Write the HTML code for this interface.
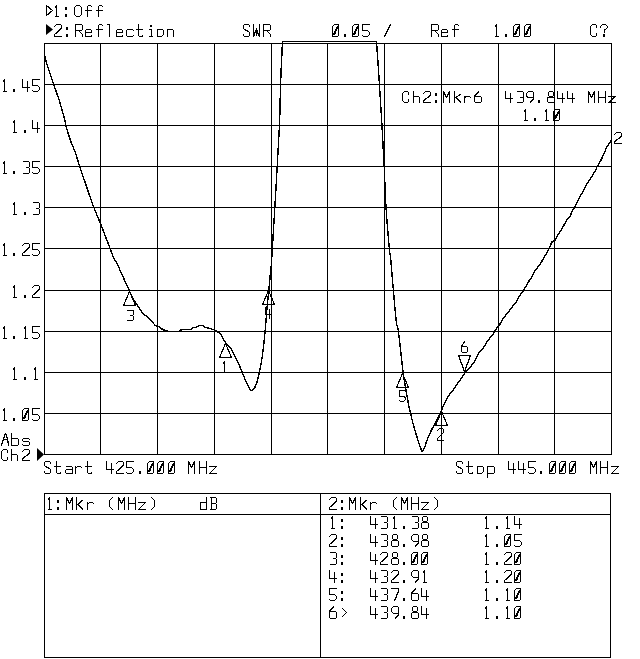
<!DOCTYPE html>
<html><head><meta charset="utf-8"><title>SWR</title>
<style>
html,body{margin:0;padding:0;background:#fff;}
body{width:640px;height:659px;overflow:hidden;font-family:"Liberation Mono",monospace;}
svg{display:block;}
</style></head><body>
<svg width="640" height="659" viewBox="0 0 640 659">
<rect x="0" y="0" width="640" height="659" fill="#fff"/>
<path d="M44.5,43 V455 M100.5,43 V455 M157.5,43 V455 M214.5,43 V455 M271.5,43 V455 M327.5,43 V455 M384.5,43 V455 M441.5,43 V455 M498.5,43 V455 M554.5,43 V455 M611.5,43 V455 M44,43.5 H612 M44,84.5 H612 M44,125.5 H612 M44,166.5 H612 M44,207.5 H612 M44,248.5 H612 M44,290.5 H612 M44,331.5 H612 M44,372.5 H612 M44,413.5 H612 M44,454.5 H612 M44.5,493.5 H610.5 V657.5 H44.5 Z M320.5,493 V658 M44,514.5 H611" fill="none" stroke="#000" stroke-width="1" shape-rendering="crispEdges"/>
<path d="M43.5,55.5 C43.67,55.5 44.17,54.88 44.5,55.5 C44.83,56.12 44.82,56.96 45.5,59.25 C46.18,61.54 47.25,65.08 48.6,69.25 C49.95,73.42 51.83,79.04 53.6,84.25 C55.38,89.46 57.37,94.46 59.25,100.5 C61.13,106.54 63.76,116.23 64.9,120.5 C66.04,124.77 65.17,122.77 66.1,126.1 C67.03,129.43 68.93,136.02 70.5,140.5 C72.07,144.98 73.93,148.52 75.5,153 C77.07,157.48 78.55,163.23 79.9,167.4 C81.25,171.57 82.35,174.36 83.6,178 C84.85,181.64 85.73,184.46 87.4,189.25 C89.07,194.04 91.42,201.03 93.6,206.75 C95.78,212.47 97.78,216.72 100.5,223.6 C103.22,230.47 107.61,242.06 109.9,248 C112.19,253.94 113.11,256.75 114.25,259.25 C115.39,261.75 115.39,260.29 116.75,263 C118.11,265.71 120.32,270.92 122.4,275.5 C124.48,280.08 127.28,286.33 129.25,290.5 C131.22,294.67 132.17,296.96 134.25,300.5 C136.33,304.04 139.88,309.25 141.75,311.75 C143.62,314.25 144.46,314.56 145.5,315.5 C146.54,316.44 146.33,315.73 148,317.4 C149.67,319.07 153.83,324.05 155.5,325.5 C157.17,326.95 156.85,325.48 158,326.1 C159.15,326.73 160.83,328.42 162.4,329.25 C163.97,330.08 164.7,330.73 167.4,331.1 C170.1,331.48 176.32,331.7 178.6,331.5 C180.88,331.3 179.22,330.23 181.1,329.9 C182.98,329.57 188.02,329.82 189.9,329.5 C191.78,329.18 191.47,328.35 192.4,328 C193.33,327.65 194.36,327.77 195.5,327.4 C196.64,327.02 198,326.02 199.25,325.75 C200.5,325.48 201.96,325.48 203,325.75 C204.04,326.02 204.25,326.92 205.5,327.4 C206.75,327.88 208.83,328.08 210.5,328.6 C212.17,329.12 213.83,329.56 215.5,330.5 C217.17,331.44 218.83,332.25 220.5,334.25 C222.17,336.25 223.83,340.21 225.5,342.5 C227.17,344.79 228.42,344.68 230.5,348 C232.58,351.32 236.02,358.23 238,362.4 C239.98,366.57 240.94,369.57 242.4,373 C243.86,376.43 245.3,380.08 246.75,383 C248.2,385.92 249.64,389.98 251.1,390.5 C252.56,391.02 254.14,389.02 255.5,386.1 C256.86,383.18 258.1,378.1 259.25,373 C260.4,367.9 261.57,361.12 262.4,355.5 C263.23,349.88 263.73,344.04 264.25,339.25 C264.77,334.46 265.09,331.38 265.5,326.75 C265.91,322.12 266.17,317.46 266.7,311.5 C267.23,305.54 268.02,298.05 268.7,291 C269.38,283.95 270.21,275.95 270.8,269.2 C271.39,262.45 270.85,273.62 272.25,250.5 C273.65,227.38 277.82,158.07 279.2,130.5 C280.57,102.93 279.95,99.93 280.5,85.1 C281.05,70.27 282.17,48.77 282.5,41.5 L376.5,41.5 C377,48.83 378.58,71.33 379.5,85.5 C380.42,99.67 381.22,112.93 382,126.5 C382.78,140.07 383.53,153.48 384.2,166.9 C384.87,180.32 385.12,193.07 386,207 C386.88,220.93 388.77,242.38 389.5,250.5 C390.23,258.62 389.75,249.03 390.4,255.7 C391.05,262.37 392.4,279.37 393.4,290.5 C394.4,301.63 395.58,315.83 396.4,322.5 C397.22,329.17 397.17,322.1 398.3,330.5 C399.43,338.9 401.62,361.23 403.2,372.9 C404.78,384.57 406.58,393.77 407.8,400.5 C409.02,407.23 409.43,408.7 410.5,413.25 C411.57,417.8 412.83,422.94 414.2,427.8 C415.57,432.66 417.42,438.45 418.7,442.4 C419.98,446.35 421.37,449.98 421.9,451.5 C422.35,450.9 423.77,449.73 424.6,447.9 C425.43,446.07 425.79,443.4 426.9,440.5 C428.01,437.6 429.8,433.52 431.25,430.5 C432.7,427.48 434.35,424.8 435.6,422.4 C436.85,420 437.7,418.29 438.75,416.1 C439.8,413.91 440.88,411.52 441.9,409.25 C442.92,406.98 443.57,405.08 444.9,402.5 C446.23,399.92 448.76,395.52 449.9,393.75 C451.04,391.98 450.72,393.26 451.75,391.9 C452.78,390.54 454.64,387.68 456.1,385.6 C457.56,383.52 459.03,381.48 460.5,379.4 C461.97,377.32 463.55,374.88 464.9,373.1 C466.25,371.33 467.25,370.31 468.6,368.75 C469.95,367.19 471.75,365.44 473,363.75 C474.25,362.06 475.06,360.49 476.1,358.6 C477.14,356.71 478,354.27 479.25,352.4 C480.5,350.53 482.14,349.38 483.6,347.4 C485.06,345.42 486.43,342.69 488,340.5 C489.57,338.31 491.65,336.17 493,334.25 C494.35,332.33 495.06,330.5 496.1,329 C497.14,327.5 498,327.12 499.25,325.25 C500.5,323.38 502.24,319.73 503.6,317.75 C504.96,315.77 505.93,315.27 507.4,313.4 C508.87,311.52 510.95,308.27 512.4,306.5 C513.85,304.73 515.17,304.15 516.1,302.75 C517.03,301.35 516.8,300.12 518,298.1 C519.2,296.08 521.42,293.52 523.3,290.6 C525.17,287.68 527.84,282.88 529.25,280.6 C530.66,278.32 530.81,278.57 531.75,276.9 C532.69,275.23 533.86,272.27 534.9,270.6 C535.94,268.93 536.97,268.25 538,266.9 C539.03,265.55 539.33,265.38 541.1,262.5 C542.87,259.62 546.77,253.05 548.6,249.6 C550.43,246.15 551.05,243.32 552.1,241.8 C553.15,240.28 554.02,241.48 554.9,240.5 C555.78,239.52 556.37,237.61 557.4,235.9 C558.43,234.19 559.54,232.86 561.1,230.25 C562.66,227.64 565.18,222.64 566.75,220.25 C568.32,217.86 569.67,217.36 570.5,215.9 C571.33,214.44 571.12,212.86 571.75,211.5 C572.38,210.14 573.21,209.62 574.25,207.75 C575.29,205.88 576.54,202.96 578,200.25 C579.46,197.54 581.33,194.53 583,191.5 C584.67,188.47 586.75,184.28 588,182.1 C589.25,179.92 589.25,180.33 590.5,178.4 C591.75,176.47 594.4,172.48 595.5,170.5 C596.6,168.52 596.27,168.07 597.1,166.5 C597.93,164.93 599.31,163.35 600.5,161.1 C601.69,158.85 603.21,155.28 604.25,153 C605.29,150.72 605.71,149.32 606.75,147.4 C607.79,145.48 609.71,142.98 610.5,141.5 C611.29,140.02 611.33,139 611.5,138.5" fill="none" stroke="#000" stroke-width="1.4" stroke-linejoin="round" shape-rendering="crispEdges"/>
<path d="M129.5,291.5 L123.5,305.5 L135.5,305.5 Z M225.5,343.5 L219.5,357.5 L231.5,357.5 Z M268.5,290.5 L262.5,304.5 L274.5,304.5 Z M402.5,373.5 L396.5,387.5 L408.5,387.5 Z M441.5,411.5 L435.5,425.5 L447.5,425.5 Z M464.5,371.5 L458.5,355.5 L470.5,355.5 Z M46.5,5.5 L52.5,10.5 L46.5,15.5 Z" fill="none" stroke="#000" stroke-width="1.25" stroke-linejoin="bevel" shape-rendering="crispEdges"/>
<path d="M46,24 L53,29.5 L46,35 Z M37,448 L44,454.5 L37,461 Z" fill="#000"/>
<path d="M55.5,7.5 L55.5,6.5 L56.5,5.5 L56.5,16.5 M55.5,16.5 L58.5,16.5 M76.5,5.5 L79.5,5.5 L81.5,7.5 L81.5,14.5 L79.5,16.5 L76.5,16.5 L74.5,14.5 L74.5,7.5 L76.5,5.5 M91.5,6.5 L90.5,5.5 L88.5,5.5 L87.5,6.5 L87.5,16.5 M85.5,10.5 L91.5,10.5 M102.5,6.5 L101.5,5.5 L99.5,5.5 L98.5,6.5 L98.5,16.5 M96.5,10.5 L102.5,10.5 M54.5,26.5 L56.5,24.5 L60.5,24.5 L61.5,25.5 L61.5,28.5 L54.5,34.5 L54.5,36.5 L61.5,36.5 M75.5,36.5 L75.5,24.5 L81.5,24.5 L82.5,25.5 L82.5,29.5 L81.5,30.5 L75.5,30.5 M79.5,31.5 L82.5,34.5 L82.5,36.5 M85.5,32.5 L91.5,32.5 L91.5,30.5 L90.5,29.5 L86.5,29.5 L85.5,30.5 L85.5,36.5 L91.5,36.5 L91.5,35.5 M102.5,25.5 L101.5,24.5 L99.5,24.5 L98.5,25.5 L98.5,36.5 M96.5,29.5 L102.5,29.5 M107.5,24.5 L109.5,24.5 L109.5,36.5 M116.5,32.5 L122.5,32.5 L122.5,30.5 L121.5,29.5 L117.5,29.5 L116.5,30.5 L116.5,36.5 L122.5,36.5 L122.5,35.5 M133.5,30.5 L132.5,29.5 L127.5,29.5 L126.5,30.5 L126.5,35.5 L127.5,36.5 L132.5,36.5 L133.5,35.5 M138.5,24.5 L138.5,35.5 L139.5,36.5 L142.5,36.5 L142.5,35.5 M136.5,29.5 L142.5,29.5 M149.5,29.5 L151.5,29.5 L151.5,36.5 M149.5,36.5 L152.5,36.5 M157.5,29.5 L162.5,29.5 L163.5,30.5 L163.5,34.5 L161.5,36.5 L157.5,36.5 L157.5,29.5 M167.5,29.5 L167.5,36.5 M167.5,29.5 L172.5,29.5 L173.5,30.5 L173.5,36.5 M249.5,26.5 L249.5,25.5 L248.5,24.5 L244.5,24.5 L243.5,25.5 L243.5,28.5 L244.5,29.5 L248.5,31.5 L249.5,32.5 L249.5,35.5 L248.5,36.5 L244.5,36.5 L243.5,35.5 L243.5,34.5 M253.5,24.5 L253.5,36.5 L256.5,29.5 L259.5,36.5 L259.5,24.5 M256.5,28.5 L256.5,35.5 M263.5,36.5 L263.5,24.5 L269.5,24.5 L270.5,25.5 L270.5,29.5 L269.5,30.5 L263.5,30.5 M267.5,31.5 L270.5,34.5 L270.5,36.5 M334.5,24.5 L338.5,24.5 L338.5,35.5 L337.5,36.5 L332.5,36.5 L332.5,26.5 L334.5,24.5 M333.5,34.5 L337.5,26.5 M334.5,34.5 L337.5,27.5 M354.5,24.5 L358.5,24.5 L358.5,35.5 L357.5,36.5 L352.5,36.5 L352.5,26.5 L354.5,24.5 M353.5,34.5 L357.5,26.5 M354.5,34.5 L357.5,27.5 M369.5,24.5 L362.5,24.5 L362.5,30.5 L367.5,30.5 L369.5,32.5 L369.5,34.5 L367.5,36.5 L363.5,36.5 L362.5,35.5 M384.5,36.5 L390.5,24.5 M431.5,36.5 L431.5,24.5 L437.5,24.5 L438.5,25.5 L438.5,29.5 L437.5,30.5 L431.5,30.5 M435.5,31.5 L438.5,34.5 L438.5,36.5 M441.5,32.5 L447.5,32.5 L447.5,30.5 L446.5,29.5 L442.5,29.5 L441.5,30.5 L441.5,36.5 L447.5,36.5 L447.5,35.5 M458.5,25.5 L457.5,24.5 L455.5,24.5 L454.5,25.5 L454.5,36.5 M452.5,29.5 L458.5,29.5 M495.5,26.5 L495.5,25.5 L496.5,24.5 L496.5,36.5 M495.5,36.5 L498.5,36.5 M515.5,24.5 L519.5,24.5 L519.5,35.5 L518.5,36.5 L513.5,36.5 L513.5,26.5 L515.5,24.5 M514.5,34.5 L518.5,26.5 M515.5,34.5 L518.5,27.5 M526.5,24.5 L530.5,24.5 L530.5,35.5 L529.5,36.5 L524.5,36.5 L524.5,26.5 L526.5,24.5 M525.5,34.5 L529.5,26.5 M526.5,34.5 L529.5,27.5 M596.5,27.5 L596.5,25.5 L595.5,24.5 L592.5,24.5 L590.5,26.5 L590.5,34.5 L592.5,36.5 L595.5,36.5 L596.5,35.5 L596.5,33.5 M600.5,27.5 L600.5,26.5 L602.5,24.5 L605.5,24.5 L607.5,26.5 L607.5,27.5 L605.5,29.5 L604.5,29.5 L604.5,32.5 M408.5,94.5 L408.5,92.5 L407.5,91.5 L404.5,91.5 L402.5,93.5 L402.5,100.5 L404.5,102.5 L407.5,102.5 L408.5,101.5 L408.5,99.5 M413.5,91.5 L413.5,102.5 M413.5,96.5 L418.5,96.5 L419.5,97.5 L419.5,102.5 M423.5,93.5 L425.5,91.5 L429.5,91.5 L430.5,92.5 L430.5,95.5 L423.5,100.5 L423.5,102.5 L430.5,102.5 M443.5,102.5 L443.5,91.5 L446.5,97.5 L449.5,91.5 L449.5,102.5 M454.5,91.5 L454.5,102.5 M460.5,94.5 L455.5,97.5 M456.5,97.5 L460.5,102.5 M464.5,96.5 L464.5,102.5 M464.5,97.5 L466.5,96.5 L469.5,96.5 L470.5,97.5 M478.5,91.5 L474.5,96.5 L474.5,101.5 L475.5,102.5 L480.5,102.5 L481.5,101.5 L481.5,97.5 L480.5,96.5 L475.5,96.5 M505.5,91.5 L505.5,98.5 L512.5,98.5 M510.5,93.5 L510.5,102.5 M517.5,91.5 L522.5,91.5 L523.5,92.5 L523.5,96.5 L522.5,97.5 L523.5,97.5 L523.5,101.5 L522.5,102.5 L517.5,102.5 M520.5,97.5 L522.5,97.5 M533.5,98.5 L533.5,92.5 L532.5,91.5 L528.5,91.5 L526.5,93.5 L526.5,96.5 L528.5,97.5 L533.5,97.5 M533.5,98.5 L530.5,102.5 M549.5,91.5 L552.5,91.5 L553.5,92.5 L553.5,95.5 L552.5,96.5 L549.5,96.5 L548.5,95.5 L548.5,92.5 L549.5,91.5 M548.5,97.5 L553.5,97.5 L554.5,97.5 L554.5,101.5 L553.5,102.5 L548.5,102.5 L547.5,101.5 L547.5,97.5 L548.5,97.5 M557.5,91.5 L557.5,98.5 L564.5,98.5 M562.5,93.5 L562.5,102.5 M567.5,91.5 L567.5,98.5 L574.5,98.5 M572.5,93.5 L572.5,102.5 M588.5,102.5 L588.5,91.5 L591.5,97.5 L594.5,91.5 L594.5,102.5 M598.5,91.5 L598.5,102.5 M605.5,91.5 L605.5,102.5 M598.5,97.5 L605.5,97.5 M608.5,96.5 L615.5,96.5 L608.5,102.5 L615.5,102.5 M524.5,111.5 L524.5,110.5 L525.5,109.5 L525.5,120.5 M524.5,120.5 L527.5,120.5 M545.5,111.5 L545.5,110.5 L546.5,109.5 L546.5,120.5 M545.5,120.5 L548.5,120.5 M555.5,109.5 L559.5,109.5 L559.5,119.5 L558.5,120.5 L553.5,120.5 L553.5,111.5 L555.5,109.5 M554.5,118.5 L558.5,111.5 M555.5,118.5 L558.5,112.5 M3.5,81.5 L3.5,80.5 L4.5,79.5 L4.5,91.5 M3.5,91.5 L6.5,91.5 M22.5,79.5 L22.5,87.5 L29.5,87.5 M27.5,81.5 L27.5,91.5 M39.5,79.5 L32.5,79.5 L32.5,85.5 L37.5,85.5 L39.5,87.5 L39.5,89.5 L37.5,91.5 L33.5,91.5 L32.5,90.5 M13.5,122.5 L13.5,121.5 L14.5,120.5 L14.5,132.5 M13.5,132.5 L16.5,132.5 M32.5,120.5 L32.5,128.5 L39.5,128.5 M37.5,122.5 L37.5,132.5 M3.5,163.5 L3.5,162.5 L4.5,161.5 L4.5,173.5 M3.5,173.5 L6.5,173.5 M23.5,161.5 L28.5,161.5 L29.5,162.5 L29.5,166.5 L28.5,167.5 L29.5,168.5 L29.5,172.5 L28.5,173.5 L23.5,173.5 M26.5,167.5 L28.5,167.5 M39.5,161.5 L32.5,161.5 L32.5,167.5 L37.5,167.5 L39.5,169.5 L39.5,171.5 L37.5,173.5 L33.5,173.5 L32.5,172.5 M13.5,204.5 L13.5,203.5 L14.5,202.5 L14.5,214.5 M13.5,214.5 L16.5,214.5 M33.5,202.5 L38.5,202.5 L39.5,203.5 L39.5,207.5 L38.5,208.5 L39.5,209.5 L39.5,213.5 L38.5,214.5 L33.5,214.5 M36.5,208.5 L38.5,208.5 M3.5,245.5 L3.5,244.5 L4.5,243.5 L4.5,255.5 M3.5,255.5 L6.5,255.5 M22.5,245.5 L24.5,243.5 L28.5,243.5 L29.5,244.5 L29.5,247.5 L22.5,253.5 L22.5,255.5 L29.5,255.5 M39.5,243.5 L32.5,243.5 L32.5,249.5 L37.5,249.5 L39.5,251.5 L39.5,253.5 L37.5,255.5 L33.5,255.5 L32.5,254.5 M13.5,287.5 L13.5,286.5 L14.5,285.5 L14.5,297.5 M13.5,297.5 L16.5,297.5 M32.5,287.5 L34.5,285.5 L38.5,285.5 L39.5,286.5 L39.5,289.5 L32.5,295.5 L32.5,297.5 L39.5,297.5 M3.5,328.5 L3.5,327.5 L4.5,326.5 L4.5,338.5 M3.5,338.5 L6.5,338.5 M24.5,328.5 L24.5,327.5 L25.5,326.5 L25.5,338.5 M24.5,338.5 L27.5,338.5 M39.5,326.5 L32.5,326.5 L32.5,332.5 L37.5,332.5 L39.5,334.5 L39.5,336.5 L37.5,338.5 L33.5,338.5 L32.5,337.5 M13.5,369.5 L13.5,368.5 L14.5,367.5 L14.5,379.5 M13.5,379.5 L16.5,379.5 M34.5,369.5 L34.5,368.5 L35.5,367.5 L35.5,379.5 M34.5,379.5 L37.5,379.5 M3.5,410.5 L3.5,409.5 L4.5,408.5 L4.5,420.5 M3.5,420.5 L6.5,420.5 M24.5,408.5 L28.5,408.5 L28.5,419.5 L27.5,420.5 L22.5,420.5 L22.5,410.5 L24.5,408.5 M23.5,418.5 L27.5,410.5 M24.5,418.5 L27.5,411.5 M39.5,408.5 L32.5,408.5 L32.5,414.5 L37.5,414.5 L39.5,416.5 L39.5,418.5 L37.5,420.5 L33.5,420.5 L32.5,419.5 M1.5,445.5 L1.5,444.5 L3.5,439.5 L4.5,435.5 L5.5,433.5 L6.5,435.5 L7.5,439.5 L8.5,444.5 L8.5,445.5 M3.5,439.5 L7.5,439.5 M11.5,433.5 L11.5,445.5 L17.5,445.5 L18.5,444.5 L18.5,439.5 L17.5,438.5 L11.5,438.5 M29.5,439.5 L28.5,438.5 L23.5,438.5 L22.5,439.5 L22.5,440.5 L23.5,441.5 L28.5,441.5 L29.5,442.5 L29.5,444.5 L28.5,445.5 L23.5,445.5 L22.5,444.5 M7.5,452.5 L7.5,450.5 L6.5,449.5 L3.5,449.5 L1.5,451.5 L1.5,458.5 L3.5,460.5 L6.5,460.5 L7.5,459.5 L7.5,457.5 M11.5,449.5 L11.5,460.5 M11.5,454.5 L16.5,454.5 L17.5,455.5 L17.5,460.5 M22.5,451.5 L24.5,449.5 L28.5,449.5 L29.5,450.5 L29.5,453.5 L22.5,458.5 L22.5,460.5 L29.5,460.5 M50.5,463.5 L50.5,462.5 L49.5,461.5 L45.5,461.5 L44.5,462.5 L44.5,465.5 L45.5,466.5 L49.5,468.5 L50.5,469.5 L50.5,472.5 L49.5,473.5 L45.5,473.5 L44.5,472.5 L44.5,471.5 M56.5,461.5 L56.5,472.5 L57.5,473.5 L60.5,473.5 L60.5,472.5 M54.5,466.5 L60.5,466.5 M66.5,466.5 L71.5,466.5 L72.5,467.5 L72.5,473.5 M72.5,469.5 L66.5,469.5 L65.5,470.5 L65.5,472.5 L66.5,473.5 L72.5,473.5 M75.5,466.5 L75.5,473.5 M75.5,468.5 L77.5,466.5 L80.5,466.5 L81.5,467.5 M87.5,461.5 L87.5,472.5 L88.5,473.5 L91.5,473.5 L91.5,472.5 M85.5,466.5 L91.5,466.5 M106.5,461.5 L106.5,469.5 L113.5,469.5 M111.5,463.5 L111.5,473.5 M116.5,463.5 L118.5,461.5 L122.5,461.5 L123.5,462.5 L123.5,465.5 L116.5,471.5 L116.5,473.5 L123.5,473.5 M133.5,461.5 L126.5,461.5 L126.5,467.5 L131.5,467.5 L133.5,469.5 L133.5,471.5 L131.5,473.5 L127.5,473.5 L126.5,472.5 M149.5,461.5 L153.5,461.5 L153.5,472.5 L152.5,473.5 L147.5,473.5 L147.5,463.5 L149.5,461.5 M148.5,471.5 L152.5,463.5 M149.5,471.5 L152.5,464.5 M159.5,461.5 L163.5,461.5 L163.5,472.5 L162.5,473.5 L157.5,473.5 L157.5,463.5 L159.5,461.5 M158.5,471.5 L162.5,463.5 M159.5,471.5 L162.5,464.5 M170.5,461.5 L174.5,461.5 L174.5,472.5 L173.5,473.5 L168.5,473.5 L168.5,463.5 L170.5,461.5 M169.5,471.5 L173.5,463.5 M170.5,471.5 L173.5,464.5 M188.5,473.5 L188.5,461.5 L191.5,467.5 L194.5,461.5 L194.5,473.5 M199.5,461.5 L199.5,473.5 M206.5,461.5 L206.5,473.5 M199.5,467.5 L206.5,467.5 M209.5,466.5 L216.5,466.5 L209.5,473.5 L216.5,473.5 M462.5,463.5 L462.5,462.5 L461.5,461.5 L457.5,461.5 L456.5,462.5 L456.5,465.5 L457.5,466.5 L461.5,468.5 L462.5,469.5 L462.5,472.5 L461.5,473.5 L457.5,473.5 L456.5,472.5 L456.5,471.5 M468.5,461.5 L468.5,472.5 L469.5,473.5 L472.5,473.5 L472.5,472.5 M466.5,466.5 L472.5,466.5 M477.5,466.5 L482.5,466.5 L483.5,467.5 L483.5,471.5 L481.5,473.5 L477.5,473.5 L477.5,466.5 M487.5,466.5 L487.5,477.5 M487.5,466.5 L493.5,466.5 L494.5,467.5 L494.5,472.5 L493.5,473.5 L487.5,473.5 M508.5,461.5 L508.5,469.5 L515.5,469.5 M513.5,463.5 L513.5,473.5 M518.5,461.5 L518.5,469.5 L525.5,469.5 M523.5,463.5 L523.5,473.5 M535.5,461.5 L528.5,461.5 L528.5,467.5 L533.5,467.5 L535.5,469.5 L535.5,471.5 L533.5,473.5 L529.5,473.5 L528.5,472.5 M551.5,461.5 L555.5,461.5 L555.5,472.5 L554.5,473.5 L549.5,473.5 L549.5,463.5 L551.5,461.5 M550.5,471.5 L554.5,463.5 M551.5,471.5 L554.5,464.5 M561.5,461.5 L565.5,461.5 L565.5,472.5 L564.5,473.5 L559.5,473.5 L559.5,463.5 L561.5,461.5 M560.5,471.5 L564.5,463.5 M561.5,471.5 L564.5,464.5 M571.5,461.5 L575.5,461.5 L575.5,472.5 L574.5,473.5 L569.5,473.5 L569.5,463.5 L571.5,461.5 M570.5,471.5 L574.5,463.5 M571.5,471.5 L574.5,464.5 M590.5,473.5 L590.5,461.5 L593.5,467.5 L596.5,461.5 L596.5,473.5 M600.5,461.5 L600.5,473.5 M607.5,461.5 L607.5,473.5 M600.5,467.5 L607.5,467.5 M611.5,466.5 L618.5,466.5 L611.5,473.5 L618.5,473.5 M48.5,499.5 L48.5,498.5 L49.5,497.5 L49.5,509.5 M48.5,509.5 L51.5,509.5 M66.5,509.5 L66.5,497.5 L69.5,503.5 L72.5,497.5 L72.5,509.5 M76.5,497.5 L76.5,509.5 M82.5,500.5 L77.5,504.5 M78.5,504.5 L82.5,509.5 M87.5,502.5 L87.5,509.5 M87.5,504.5 L89.5,502.5 L92.5,502.5 L93.5,503.5 M112.5,497.5 L109.5,500.5 L109.5,506.5 L112.5,509.5 M118.5,509.5 L118.5,497.5 L121.5,503.5 L124.5,497.5 L124.5,509.5 M128.5,497.5 L128.5,509.5 M135.5,497.5 L135.5,509.5 M128.5,503.5 L135.5,503.5 M138.5,502.5 L145.5,502.5 L138.5,509.5 L145.5,509.5 M151.5,497.5 L154.5,500.5 L154.5,506.5 L151.5,509.5 M206.5,497.5 L206.5,509.5 L200.5,509.5 L200.5,502.5 L206.5,502.5 M210.5,497.5 L215.5,497.5 L216.5,498.5 L216.5,502.5 L215.5,503.5 L211.5,503.5 M215.5,503.5 L216.5,504.5 L216.5,508.5 L215.5,509.5 L210.5,509.5 M211.5,497.5 L211.5,509.5 M329.5,499.5 L331.5,497.5 L335.5,497.5 L336.5,498.5 L336.5,501.5 L329.5,507.5 L329.5,509.5 L336.5,509.5 M349.5,509.5 L349.5,497.5 L352.5,503.5 L355.5,497.5 L355.5,509.5 M360.5,497.5 L360.5,509.5 M366.5,500.5 L361.5,504.5 M362.5,504.5 L366.5,509.5 M370.5,502.5 L370.5,509.5 M370.5,504.5 L372.5,502.5 L375.5,502.5 L376.5,503.5 M396.5,497.5 L393.5,500.5 L393.5,506.5 L396.5,509.5 M401.5,509.5 L401.5,497.5 L404.5,503.5 L407.5,497.5 L407.5,509.5 M411.5,497.5 L411.5,509.5 M418.5,497.5 L418.5,509.5 M411.5,503.5 L418.5,503.5 M421.5,502.5 L428.5,502.5 L421.5,509.5 L428.5,509.5 M434.5,497.5 L437.5,500.5 L437.5,506.5 L434.5,509.5 M331.5,518.5 L331.5,517.5 L332.5,516.5 L332.5,528.5 M331.5,528.5 L334.5,528.5 M370.5,516.5 L370.5,524.5 L377.5,524.5 M375.5,518.5 L375.5,528.5 M381.5,516.5 L386.5,516.5 L387.5,517.5 L387.5,521.5 L386.5,522.5 L387.5,523.5 L387.5,527.5 L386.5,528.5 L381.5,528.5 M384.5,522.5 L386.5,522.5 M393.5,518.5 L393.5,517.5 L394.5,516.5 L394.5,528.5 M393.5,528.5 L396.5,528.5 M412.5,516.5 L417.5,516.5 L418.5,517.5 L418.5,521.5 L417.5,522.5 L418.5,523.5 L418.5,527.5 L417.5,528.5 L412.5,528.5 M415.5,522.5 L417.5,522.5 M423.5,516.5 L426.5,516.5 L427.5,517.5 L427.5,520.5 L426.5,521.5 L423.5,521.5 L422.5,520.5 L422.5,517.5 L423.5,516.5 M422.5,522.5 L427.5,522.5 L428.5,523.5 L428.5,527.5 L427.5,528.5 L422.5,528.5 L421.5,527.5 L421.5,523.5 L422.5,522.5 M485.5,518.5 L485.5,517.5 L486.5,516.5 L486.5,528.5 M485.5,528.5 L488.5,528.5 M506.5,518.5 L506.5,517.5 L507.5,516.5 L507.5,528.5 M506.5,528.5 L509.5,528.5 M514.5,516.5 L514.5,524.5 L521.5,524.5 M519.5,518.5 L519.5,528.5 M329.5,536.5 L331.5,534.5 L335.5,534.5 L336.5,535.5 L336.5,538.5 L329.5,544.5 L329.5,546.5 L336.5,546.5 M370.5,534.5 L370.5,542.5 L377.5,542.5 M375.5,536.5 L375.5,546.5 M381.5,534.5 L386.5,534.5 L387.5,535.5 L387.5,539.5 L386.5,540.5 L387.5,541.5 L387.5,545.5 L386.5,546.5 L381.5,546.5 M384.5,540.5 L386.5,540.5 M393.5,534.5 L396.5,534.5 L397.5,535.5 L397.5,538.5 L396.5,539.5 L393.5,539.5 L392.5,538.5 L392.5,535.5 L393.5,534.5 M392.5,540.5 L397.5,540.5 L398.5,541.5 L398.5,545.5 L397.5,546.5 L392.5,546.5 L391.5,545.5 L391.5,541.5 L392.5,540.5 M418.5,542.5 L418.5,535.5 L417.5,534.5 L413.5,534.5 L411.5,536.5 L411.5,539.5 L413.5,541.5 L418.5,541.5 M418.5,542.5 L415.5,546.5 M423.5,534.5 L426.5,534.5 L427.5,535.5 L427.5,538.5 L426.5,539.5 L423.5,539.5 L422.5,538.5 L422.5,535.5 L423.5,534.5 M422.5,540.5 L427.5,540.5 L428.5,541.5 L428.5,545.5 L427.5,546.5 L422.5,546.5 L421.5,545.5 L421.5,541.5 L422.5,540.5 M485.5,536.5 L485.5,535.5 L486.5,534.5 L486.5,546.5 M485.5,546.5 L488.5,546.5 M506.5,534.5 L510.5,534.5 L510.5,545.5 L509.5,546.5 L504.5,546.5 L504.5,536.5 L506.5,534.5 M505.5,544.5 L509.5,536.5 M506.5,544.5 L509.5,537.5 M521.5,534.5 L514.5,534.5 L514.5,540.5 L519.5,540.5 L521.5,542.5 L521.5,544.5 L519.5,546.5 L515.5,546.5 L514.5,545.5 M330.5,552.5 L335.5,552.5 L336.5,553.5 L336.5,557.5 L335.5,558.5 L336.5,559.5 L336.5,563.5 L335.5,564.5 L330.5,564.5 M333.5,558.5 L335.5,558.5 M370.5,552.5 L370.5,560.5 L377.5,560.5 M375.5,554.5 L375.5,564.5 M380.5,554.5 L382.5,552.5 L386.5,552.5 L387.5,553.5 L387.5,556.5 L380.5,562.5 L380.5,564.5 L387.5,564.5 M393.5,552.5 L396.5,552.5 L397.5,553.5 L397.5,556.5 L396.5,557.5 L393.5,557.5 L392.5,556.5 L392.5,553.5 L393.5,552.5 M392.5,558.5 L397.5,558.5 L398.5,559.5 L398.5,563.5 L397.5,564.5 L392.5,564.5 L391.5,563.5 L391.5,559.5 L392.5,558.5 M413.5,552.5 L417.5,552.5 L417.5,563.5 L416.5,564.5 L411.5,564.5 L411.5,554.5 L413.5,552.5 M412.5,562.5 L416.5,554.5 M413.5,562.5 L416.5,555.5 M423.5,552.5 L427.5,552.5 L427.5,563.5 L426.5,564.5 L421.5,564.5 L421.5,554.5 L423.5,552.5 M422.5,562.5 L426.5,554.5 M423.5,562.5 L426.5,555.5 M485.5,554.5 L485.5,553.5 L486.5,552.5 L486.5,564.5 M485.5,564.5 L488.5,564.5 M504.5,554.5 L506.5,552.5 L510.5,552.5 L511.5,553.5 L511.5,556.5 L504.5,562.5 L504.5,564.5 L511.5,564.5 M516.5,552.5 L520.5,552.5 L520.5,563.5 L519.5,564.5 L514.5,564.5 L514.5,554.5 L516.5,552.5 M515.5,562.5 L519.5,554.5 M516.5,562.5 L519.5,555.5 M329.5,570.5 L329.5,578.5 L336.5,578.5 M334.5,572.5 L334.5,582.5 M370.5,570.5 L370.5,578.5 L377.5,578.5 M375.5,572.5 L375.5,582.5 M381.5,570.5 L386.5,570.5 L387.5,571.5 L387.5,575.5 L386.5,576.5 L387.5,577.5 L387.5,581.5 L386.5,582.5 L381.5,582.5 M384.5,576.5 L386.5,576.5 M391.5,572.5 L393.5,570.5 L397.5,570.5 L398.5,571.5 L398.5,574.5 L391.5,580.5 L391.5,582.5 L398.5,582.5 M418.5,578.5 L418.5,571.5 L417.5,570.5 L413.5,570.5 L411.5,572.5 L411.5,575.5 L413.5,577.5 L418.5,577.5 M418.5,578.5 L415.5,582.5 M423.5,572.5 L423.5,571.5 L424.5,570.5 L424.5,582.5 M423.5,582.5 L426.5,582.5 M485.5,572.5 L485.5,571.5 L486.5,570.5 L486.5,582.5 M485.5,582.5 L488.5,582.5 M504.5,572.5 L506.5,570.5 L510.5,570.5 L511.5,571.5 L511.5,574.5 L504.5,580.5 L504.5,582.5 L511.5,582.5 M516.5,570.5 L520.5,570.5 L520.5,581.5 L519.5,582.5 L514.5,582.5 L514.5,572.5 L516.5,570.5 M515.5,580.5 L519.5,572.5 M516.5,580.5 L519.5,573.5 M336.5,588.5 L329.5,588.5 L329.5,594.5 L334.5,594.5 L336.5,596.5 L336.5,598.5 L334.5,600.5 L330.5,600.5 L329.5,599.5 M370.5,588.5 L370.5,596.5 L377.5,596.5 M375.5,590.5 L375.5,600.5 M381.5,588.5 L386.5,588.5 L387.5,589.5 L387.5,593.5 L386.5,594.5 L387.5,595.5 L387.5,599.5 L386.5,600.5 L381.5,600.5 M384.5,594.5 L386.5,594.5 M391.5,588.5 L398.5,588.5 L398.5,591.5 L394.5,600.5 M415.5,588.5 L411.5,593.5 L411.5,599.5 L412.5,600.5 L417.5,600.5 L418.5,599.5 L418.5,594.5 L417.5,593.5 L412.5,593.5 M421.5,588.5 L421.5,596.5 L428.5,596.5 M426.5,590.5 L426.5,600.5 M485.5,590.5 L485.5,589.5 L486.5,588.5 L486.5,600.5 M485.5,600.5 L488.5,600.5 M506.5,590.5 L506.5,589.5 L507.5,588.5 L507.5,600.5 M506.5,600.5 L509.5,600.5 M516.5,588.5 L520.5,588.5 L520.5,599.5 L519.5,600.5 L514.5,600.5 L514.5,590.5 L516.5,588.5 M515.5,598.5 L519.5,590.5 M516.5,598.5 L519.5,591.5 M333.5,606.5 L329.5,611.5 L329.5,617.5 L330.5,618.5 L335.5,618.5 L336.5,617.5 L336.5,612.5 L335.5,611.5 L330.5,611.5 M342.5,608.5 L346.5,612.5 L342.5,616.5 M370.5,606.5 L370.5,614.5 L377.5,614.5 M375.5,608.5 L375.5,618.5 M381.5,606.5 L386.5,606.5 L387.5,607.5 L387.5,611.5 L386.5,612.5 L387.5,613.5 L387.5,617.5 L386.5,618.5 L381.5,618.5 M384.5,612.5 L386.5,612.5 M398.5,614.5 L398.5,607.5 L397.5,606.5 L393.5,606.5 L391.5,608.5 L391.5,611.5 L393.5,613.5 L398.5,613.5 M398.5,614.5 L395.5,618.5 M413.5,606.5 L416.5,606.5 L417.5,607.5 L417.5,610.5 L416.5,611.5 L413.5,611.5 L412.5,610.5 L412.5,607.5 L413.5,606.5 M412.5,612.5 L417.5,612.5 L418.5,613.5 L418.5,617.5 L417.5,618.5 L412.5,618.5 L411.5,617.5 L411.5,613.5 L412.5,612.5 M421.5,606.5 L421.5,614.5 L428.5,614.5 M426.5,608.5 L426.5,618.5 M485.5,608.5 L485.5,607.5 L486.5,606.5 L486.5,618.5 M485.5,618.5 L488.5,618.5 M506.5,608.5 L506.5,607.5 L507.5,606.5 L507.5,618.5 M506.5,618.5 L509.5,618.5 M516.5,606.5 L520.5,606.5 L520.5,617.5 L519.5,618.5 L514.5,618.5 L514.5,608.5 L516.5,606.5 M515.5,616.5 L519.5,608.5 M516.5,616.5 L519.5,609.5 M127.5,310.5 L132.5,310.5 L133.5,310.5 L133.5,314.5 L132.5,315.5 L133.5,316.5 L133.5,319.5 L132.5,320.5 L127.5,320.5 M130.5,315.5 L132.5,315.5 M223.5,363.5 L223.5,362.5 L224.5,361.5 L224.5,372.5 M223.5,372.5 L226.5,372.5 M265.5,307.5 L265.5,314.5 L271.5,314.5 M269.5,309.5 L269.5,318.5 M405.5,390.5 L399.5,390.5 L399.5,396.5 L403.5,396.5 L405.5,397.5 L405.5,399.5 L403.5,401.5 L400.5,401.5 L399.5,400.5 M437.5,430.5 L439.5,428.5 L442.5,428.5 L443.5,429.5 L443.5,432.5 L437.5,438.5 L437.5,440.5 L443.5,440.5 M464.5,341.5 L461.5,346.5 L461.5,351.5 L462.5,352.5 L466.5,352.5 L467.5,351.5 L467.5,347.5 L466.5,346.5 L462.5,346.5 M614.5,134.5 L616.5,132.5 L620.5,132.5 L621.5,133.5 L621.5,136.5 L614.5,141.5 L614.5,143.5 L621.5,143.5" fill="none" stroke="#000" stroke-width="1.3" stroke-linecap="square" stroke-linejoin="bevel" shape-rendering="crispEdges"/>
<path d="M65,7 h2 v3 h-2 Z M65,14 h2 v3 h-2 Z M66,27 h2 v3 h-2 Z M66,34 h2 v3 h-2 Z M150,25 h2 v2 h-2 Z M344,34 h2 v3 h-2 Z M505,34 h2 v3 h-2 Z M603,34 h2 v3 h-2 Z M435,93 h2 v3 h-2 Z M435,100 h2 v3 h-2 Z M538,100 h2 v3 h-2 Z M534,118 h2 v3 h-2 Z M13,89 h2 v3 h-2 Z M24,130 h2 v3 h-2 Z M13,171 h2 v3 h-2 Z M24,212 h2 v3 h-2 Z M13,253 h2 v3 h-2 Z M24,295 h2 v3 h-2 Z M13,336 h2 v3 h-2 Z M24,377 h2 v3 h-2 Z M13,418 h2 v3 h-2 Z M139,471 h2 v3 h-2 Z M540,471 h2 v3 h-2 Z M57,500 h2 v3 h-2 Z M57,507 h2 v3 h-2 Z M341,500 h2 v3 h-2 Z M341,507 h2 v3 h-2 Z M341,519 h2 v3 h-2 Z M341,526 h2 v3 h-2 Z M403,526 h2 v3 h-2 Z M496,526 h2 v3 h-2 Z M341,537 h2 v3 h-2 Z M341,544 h2 v3 h-2 Z M403,544 h2 v3 h-2 Z M496,544 h2 v3 h-2 Z M341,555 h2 v3 h-2 Z M341,562 h2 v3 h-2 Z M403,562 h2 v3 h-2 Z M496,562 h2 v3 h-2 Z M341,573 h2 v3 h-2 Z M341,580 h2 v3 h-2 Z M403,580 h2 v3 h-2 Z M496,580 h2 v3 h-2 Z M341,591 h2 v3 h-2 Z M341,598 h2 v3 h-2 Z M403,598 h2 v3 h-2 Z M496,598 h2 v3 h-2 Z M403,616 h2 v3 h-2 Z M496,616 h2 v3 h-2 Z" fill="#000"/>
</svg>
</body></html>
